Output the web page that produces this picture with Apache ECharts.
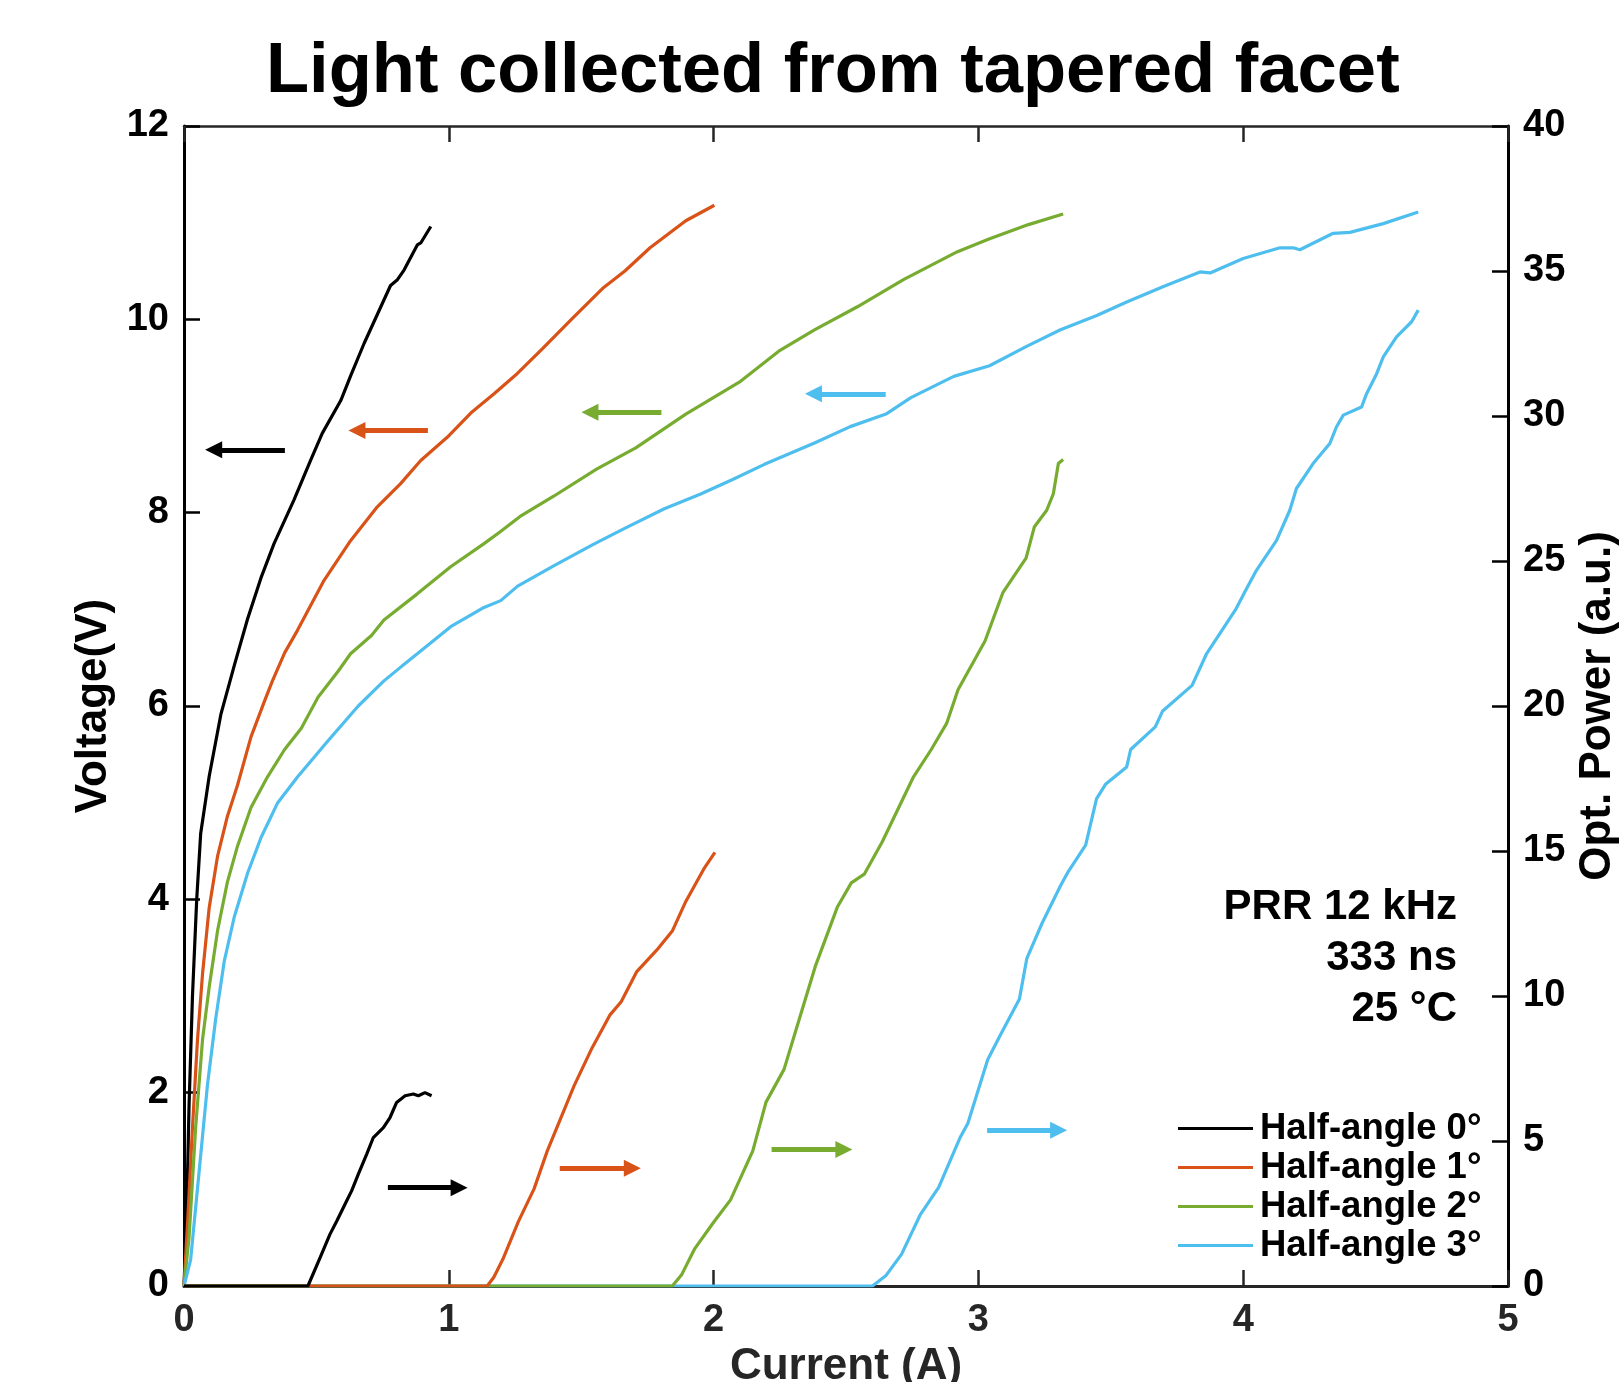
<!DOCTYPE html>
<html>
<head>
<meta charset="utf-8">
<script src="https://cdn.jsdelivr.net/npm/echarts@6/dist/echarts.min.js"></script>
<style>html,body{margin:0;padding:0;background:#fff;overflow:hidden}#chart{width:1621px;height:1382px}</style>
</head>
<body>
<div id="chart"></div>
<script>
// ---- Data (x = Current in A) ----
const seriesNames = ['Half-angle 0°', 'Half-angle 1°', 'Half-angle 2°', 'Half-angle 3°'];
const seriesColors = ['#000000', '#D95319', '#77AC30', '#4DBEEE'];

// Voltage (V) vs current
const voltage0 = [[0,0],[0.005,0.35],[0.01,0.73],[0.019,1.86],[0.032,3.0],[0.048,4.0],[0.063,4.68],[0.095,5.27],[0.139,5.91],[0.19,6.42],[0.24,6.9],[0.29,7.32],[0.34,7.68],[0.415,8.13],[0.478,8.54],[0.522,8.82],[0.592,9.16],[0.63,9.42],[0.68,9.75],[0.73,10.05],[0.78,10.35],[0.806,10.41],[0.831,10.51],[0.881,10.77],[0.894,10.79],[0.932,10.96]];
const voltage1 = [[0,0],[0.015,0.73],[0.032,1.64],[0.051,2.55],[0.07,3.23],[0.095,3.91],[0.127,4.45],[0.164,4.86],[0.202,5.18],[0.253,5.68],[0.304,6.05],[0.334,6.26],[0.38,6.55],[0.428,6.78],[0.529,7.30],[0.629,7.71],[0.73,8.06],[0.818,8.30],[0.894,8.54],[0.994,8.78],[1.083,9.03],[1.171,9.23],[1.259,9.44],[1.355,9.70],[1.463,10.0],[1.585,10.33],[1.665,10.50],[1.76,10.74],[1.895,11.02],[2.003,11.18]];
const voltage2 = [[0,0],[0.019,0.5],[0.044,1.64],[0.07,2.55],[0.095,3.09],[0.127,3.68],[0.164,4.18],[0.202,4.55],[0.253,4.95],[0.316,5.27],[0.38,5.55],[0.443,5.77],[0.506,6.09],[0.582,6.36],[0.629,6.54],[0.708,6.73],[0.755,6.89],[0.881,7.16],[1.007,7.44],[1.133,7.68],[1.193,7.80],[1.274,7.97],[1.396,8.17],[1.558,8.45],[1.706,8.67],[1.895,9.02],[2.097,9.35],[2.246,9.67],[2.381,9.89],[2.543,10.13],[2.717,10.41],[2.921,10.70],[3.04,10.83],[3.189,10.98],[3.32,11.09]];
const voltage3 = [[0,0],[0.025,0.27],[0.057,1.18],[0.089,2.09],[0.12,2.77],[0.152,3.36],[0.19,3.82],[0.24,4.27],[0.291,4.64],[0.354,5.0],[0.43,5.27],[0.544,5.64],[0.658,6.0],[0.755,6.26],[0.822,6.41],[0.881,6.54],[1.007,6.82],[1.133,7.02],[1.196,7.09],[1.26,7.24],[1.396,7.45],[1.544,7.67],[1.666,7.84],[1.814,8.04],[1.949,8.19],[2.07,8.34],[2.192,8.50],[2.381,8.72],[2.516,8.89],[2.651,9.02],[2.745,9.19],[2.907,9.41],[3.042,9.52],[3.182,9.72],[3.308,9.89],[3.447,10.04],[3.56,10.18],[3.699,10.34],[3.837,10.49],[3.875,10.48],[4.0,10.63],[4.139,10.74],[4.189,10.74],[4.214,10.72],[4.34,10.89],[4.403,10.90],[4.529,10.99],[4.661,11.11]];

// Optical power (a.u.) vs current
const power0 = [[0,0],[0.468,0],[0.514,0.98],[0.551,1.78],[0.577,2.24],[0.614,2.93],[0.633,3.28],[0.658,3.85],[0.69,4.55],[0.715,5.12],[0.753,5.46],[0.778,5.81],[0.803,6.33],[0.835,6.56],[0.866,6.62],[0.885,6.56],[0.91,6.67],[0.935,6.56]];
const power1 = [[0,0],[1.145,0],[1.17,0.3],[1.204,0.92],[1.263,2.23],[1.322,3.35],[1.372,4.66],[1.473,6.90],[1.541,8.21],[1.608,9.34],[1.651,9.80],[1.709,10.83],[1.785,11.58],[1.844,12.24],[1.895,13.26],[1.963,14.38],[2.005,14.95]];
const power2 = [[0,0],[1.844,0],[1.88,0.4],[1.929,1.29],[2.0,2.2],[2.064,2.97],[2.148,4.66],[2.198,6.34],[2.266,7.47],[2.334,9.52],[2.384,11.02],[2.468,13.08],[2.52,13.9],[2.569,14.20],[2.637,15.32],[2.755,17.56],[2.822,18.50],[2.88,19.4],[2.923,20.56],[3.025,22.24],[3.093,23.92],[3.157,24.79],[3.18,25.1],[3.211,26.17],[3.258,26.75],[3.283,27.32],[3.302,28.36],[3.32,28.5]];
const power3 = [[0,0],[2.6,0],[2.65,0.35],[2.71,1.1],[2.78,2.45],[2.85,3.4],[2.93,5.1],[2.96,5.6],[3.035,7.8],[3.08,8.6],[3.155,9.9],[3.183,11.3],[3.24,12.5],[3.31,13.8],[3.34,14.3],[3.405,15.2],[3.446,16.8],[3.48,17.3],[3.56,17.9],[3.575,18.5],[3.668,19.28],[3.696,19.83],[3.807,20.71],[3.862,21.81],[3.973,23.35],[4.01,24.0],[4.05,24.68],[4.126,25.71],[4.176,26.75],[4.201,27.50],[4.264,28.36],[4.327,29.05],[4.352,29.62],[4.378,30.03],[4.447,30.31],[4.466,30.77],[4.504,31.46],[4.529,32.04],[4.579,32.73],[4.636,33.25],[4.661,33.65]];

// Arrow annotations: [tail current, head current, level]
const voltageArrows = [[0.381,0.112,8.65],[0.921,0.653,8.85],[1.803,1.533,9.04],[2.65,2.377,9.23]];
const powerArrows = [[0.77,1.039,3.39],[1.419,1.693,4.06],[2.219,2.492,4.71],[3.033,3.303,5.37]];

const xTicks = {min:0, max:5, interval:1};
const vTicks = {min:0, max:12, interval:2};
const pTicks = {min:0, max:40, interval:5};
const annotationLines = ['PRR 12 kHz', '333 ns', '25 °C'];

// ---- Chart ----
const FONT = '"Liberation Sans", Arial, Helvetica, sans-serif';
const voltage = [voltage0, voltage1, voltage2, voltage3];
const power = [power0, power1, power2, power3];

function arrowMark(arr, color) {
  return {
    silent: true, animation: false,
    symbol: ['none', 'triangle'], symbolSize: 17,
    label: {show: false},
    emphasis: {disabled: true},
    lineStyle: {color: color, width: 5, type: 'solid', opacity: 1},
    data: [[{coord: [arr[0], arr[2]]}, {coord: [arr[1], arr[2]]}]]
  };
}

const series = [];
for (let i = 0; i < 4; i++) {
  series.push({
    type: 'line', name: seriesNames[i], xAxisIndex: 0, yAxisIndex: 0,
    data: voltage[i], showSymbol: false, symbol: 'none', smooth: false,
    lineStyle: {color: seriesColors[i], width: 3.2},
    itemStyle: {color: seriesColors[i]},
    markLine: arrowMark(voltageArrows[i], seriesColors[i]),
    z: 3
  });
}
for (let i = 3; i >= 0; i--) {
  series.push({
    type: 'line', name: seriesNames[i], xAxisIndex: 0, yAxisIndex: 1,
    data: power[i], showSymbol: false, symbol: 'none', smooth: false,
    lineStyle: {color: seriesColors[i], width: 3.2},
    itemStyle: {color: seriesColors[i]},
    markLine: arrowMark(powerArrows[i], seriesColors[i]),
    z: 3
  });
}

const axisGray = '#262626';
const chart = echarts.init(document.getElementById('chart'), null, {renderer: 'canvas'});
chart.setOption({
  animation: false,
  backgroundColor: '#ffffff',
  title: {
    text: 'Light collected from tapered facet',
    left: 266, top: 37, padding: 0,
    textStyle: {fontSize: 70.6, fontWeight: 'bold', color: '#000', fontFamily: FONT}
  },
  grid: {left: 184, right: 113, top: 126, bottom: 96, containLabel: false, outerBoundsMode: 'none'},
  legend: {
    data: seriesNames, orient: 'vertical', left: 1178, top: 1109,
    itemWidth: 75, itemHeight: 3, itemGap: 0, icon: 'rect', padding: 0,
    selectedMode: false,
    textStyle: {fontSize: 36.5, fontWeight: 'bold', color: '#000', lineHeight: 39, fontFamily: FONT, padding: [0, 0, 0, 2]}
  },
  xAxis: [
    {
      type: 'value', position: 'bottom', min: xTicks.min, max: xTicks.max, interval: xTicks.interval,
      axisLine: {show: true, onZero: false, lineStyle: {color: axisGray, width: 3}},
      axisTick: {show: true, inside: true, length: 16, lineStyle: {color: axisGray, width: 2.5}},
      axisLabel: {show: true, color: axisGray, fontSize: 38, fontWeight: 'bold', margin: 16, fontFamily: FONT},
      splitLine: {show: false},
      name: 'Current (A)', nameLocation: 'middle', nameGap: 57,
      nameTextStyle: {fontSize: 44, fontWeight: 'bold', color: axisGray, fontFamily: FONT}
    },
    {
      type: 'value', position: 'top', min: xTicks.min, max: xTicks.max, interval: xTicks.interval,
      axisLine: {show: true, onZero: false, lineStyle: {color: axisGray, width: 2.5}},
      axisTick: {show: true, inside: true, length: 16, lineStyle: {color: axisGray, width: 2.5}},
      axisLabel: {show: false},
      splitLine: {show: false}
    }
  ],
  yAxis: [
    {
      type: 'value', position: 'left', min: vTicks.min, max: vTicks.max, interval: vTicks.interval,
      axisLine: {show: true, onZero: false, lineStyle: {color: '#000', width: 3}},
      axisTick: {show: true, inside: true, length: 16, lineStyle: {color: '#000', width: 2.5}},
      axisLabel: {show: true, color: '#000', fontSize: 38, fontWeight: 'bold', margin: 15, fontFamily: FONT},
      splitLine: {show: false},
      name: 'Voltage(V)', nameLocation: 'middle', nameGap: 67,
      nameTextStyle: {fontSize: 44, fontWeight: 'bold', color: '#000', fontFamily: FONT}
    },
    {
      type: 'value', position: 'right', min: pTicks.min, max: pTicks.max, interval: pTicks.interval,
      axisLine: {show: true, onZero: false, lineStyle: {color: '#000', width: 3}},
      axisTick: {show: true, inside: true, length: 16, lineStyle: {color: '#000', width: 2.5}},
      axisLabel: {show: true, color: '#000', fontSize: 38, fontWeight: 'bold', margin: 15, fontFamily: FONT},
      splitLine: {show: false},
      name: 'Opt. Power (a.u.)', nameLocation: 'middle', nameGap: 62,
      nameTextStyle: {fontSize: 44, fontWeight: 'bold', color: '#000', fontFamily: FONT}
    }
  ],
  graphic: [{
    type: 'text', right: 164, top: 882, silent: true,
    style: {
      text: annotationLines.join('\n'), fill: '#000', textAlign: 'right',
      font: 'bold 42px ' + FONT, lineHeight: 51
    }
  }],
  series: series
});
</script>
</body>
</html>
